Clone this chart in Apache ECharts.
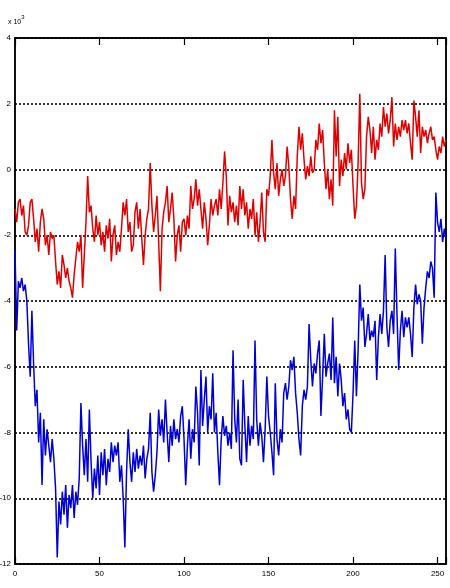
<!DOCTYPE html>
<html>
<head>
<meta charset="utf-8">
<script src="https://cdn.jsdelivr.net/npm/echarts@6/dist/echarts.min.js"></script>
<style>
  html, body { margin: 0; padding: 0; background: #fff; }
  #chart { width: 450px; height: 588px; }
</style>
</head>
<body>
<div id="chart"></div>
<script>
// Sample index (0..255) is the x value for both traces.
const xTicks = [0, 50, 100, 150, 200, 250];
const yTicks = [-12, -10, -8, -6, -4, -2, 0, 2, 4];
const yExponentLabel = '3';

// Upper trace (red), units of 10^3
const redValues = [
  -1.2, -1.6, -1.0, -0.9, -1.4, -1.1, -1.9, -2.0, -1.7, -1.0,
  -0.9, -1.5, -2.2, -1.8, -2.5, -1.6, -1.2, -1.5, -2.3, -2.0,
  -2.6, -1.9, -2.1, -2.0, -2.8, -3.5, -3.1, -3.6, -2.6, -2.9,
  -3.3, -3.0, -3.4, -3.6, -3.9, -3.2, -2.7, -2.2, -2.5, -2.0,
  -3.6, -2.6, -1.6, -0.2, -1.3, -1.1, -1.8, -2.2, -1.4, -2.0,
  -1.6, -2.3, -1.9, -2.5, -1.7, -2.1, -1.5, -2.8, -2.0, -1.7,
  -2.6, -2.2, -2.5, -1.8, -1.0, -1.4, -0.9, -1.9, -1.6, -2.5,
  -2.3, -1.3, -1.0, -1.8, -1.2, -2.1, -2.9, -2.0, -1.5, -1.2,
  0.2, -1.1, -1.9, -1.4, -0.8, -2.2, -3.7, -1.8, -1.3, -1.0,
  -0.5, -1.6, -1.2, -0.7, -1.5, -2.8, -2.0, -1.7, -2.5, -1.6,
  -1.5, -2.0, -1.4, -1.8, -0.5, -1.2, -0.9, -0.3, -1.1, -0.6,
  -1.2, -1.8, -1.0, -1.5, -2.3, -1.7, -0.9, -1.4, -1.1, -0.9,
  -1.4, -0.6, -1.2, -0.4, 0.55, -0.2, -1.7, -0.8, -1.3, -1.0,
  -1.6, -1.1, -1.7, -0.5, -1.2, -0.6, -1.4, -1.0, -1.8, -1.2,
  -1.5, -0.9, -2.0, -1.3, -2.2, -1.6, -0.7, -1.9, -2.2, -0.6,
  -0.8, -0.2, 0.9, -0.1, -0.6, 0.2, -0.8, -0.3, 0.0, -0.5,
  -0.2, 0.7, 0.1, -0.9, -1.5, -0.8, -1.2, 0.4, 1.3, 0.6,
  1.1, 0.3, -0.3, 0.1, -0.2, 0.4, -0.1, 0.0, 0.9, 0.6,
  1.4, 0.8, 1.2, 0.2, -0.6, 0.0, -0.9, -0.3, -1.1, 1.8,
  0.4, 1.6, -0.5, 0.3, -0.2, 0.5, 0.0, 0.8, 0.2, 0.6,
  -0.5, -1.5, -1.1, 0.2, 2.3, -0.4, -0.9, -0.6, 1.0, 1.6,
  1.2, 0.5, 1.3, 0.3, 0.9, 0.6, 1.4, 1.0, 1.9, 1.3,
  1.7, 1.1, 1.5, 2.2, 0.7, 1.4, 0.9, 1.3, 1.0, 1.5,
  1.2, 1.5, 1.1, 1.4, 0.8, 0.3, 2.1, 1.6, 1.0, 1.8,
  0.5, 1.3, 1.0, 1.2, 0.8, 1.1, 1.3, 0.9, 1.0, 0.6,
  0.3, 0.7, 0.5, 1.0, 0.7, 0.9
];

// Lower trace (blue), units of 10^3
const blueValues = [
  -2.45, -4.9, -3.4, -3.6, -3.3, -3.7, -3.5, -4.0, -5.3, -6.3,
  -4.3, -5.9, -7.2, -6.7, -8.3, -7.4, -9.6, -7.6, -8.7, -7.9,
  -8.4, -8.9, -8.2, -8.8, -9.7, -11.8, -10.1, -10.8, -9.8, -10.5,
  -9.6, -10.9, -9.9, -10.3, -9.6, -10.6, -9.8, -10.2, -9.4, -7.1,
  -8.4, -9.3, -8.2, -9.5, -7.3, -8.9, -10.0, -9.1, -9.7, -8.7,
  -9.9, -8.6, -9.3, -8.5, -9.6, -8.8, -9.2, -8.3, -8.9, -8.4,
  -8.7, -8.3, -9.5, -9.0, -10.0, -11.5, -9.2, -7.9, -8.9, -9.5,
  -8.6, -9.2, -8.5, -9.1, -8.7, -9.0, -8.4, -9.4, -8.8, -8.5,
  -7.4, -9.2, -9.8, -9.3, -8.6, -7.3, -8.1, -7.6, -8.3, -7.0,
  -8.0, -8.9, -7.8, -8.4, -7.6, -8.2, -7.9, -8.3, -7.5, -7.2,
  -8.2, -9.6, -8.4, -7.6, -8.8, -7.9, -8.3, -6.6, -7.4, -9.0,
  -6.1, -7.8, -7.0, -6.3, -8.0, -7.2, -7.6, -6.2, -8.0, -7.4,
  -8.6, -9.6, -8.2, -7.5, -8.1, -7.8, -8.4, -8.0, -8.5, -5.5,
  -7.6, -8.3, -7.0, -8.8, -9.0, -6.4, -7.8, -8.9, -7.5, -8.4,
  -7.8, -8.2, -5.2, -7.6, -8.4, -7.7, -8.1, -8.9, -7.9, -6.3,
  -7.5, -8.0, -8.6, -9.3, -6.5, -8.2, -8.7, -7.9, -8.3, -6.8,
  -6.5, -7.0, -6.6, -5.8, -6.1, -5.7, -6.8, -7.4, -8.2, -8.7,
  -7.2, -6.7, -7.0, -6.6, -4.7, -5.8, -6.6, -5.9, -6.2, -5.6,
  -5.2, -7.5, -6.3, -5.0, -6.3, -5.9, -5.6, -6.4, -4.5, -6.5,
  -5.7, -6.9, -5.9, -6.4, -7.2, -6.8, -7.6, -7.3, -7.9, -8.0,
  -6.8, -5.2, -6.9, -5.5, -3.5, -4.6, -4.2, -5.4, -5.0, -4.4,
  -5.2, -4.9, -5.1, -4.6, -6.4, -5.1, -4.4, -5.0, -4.3, -2.6,
  -4.8, -5.4, -4.6, -4.3, -5.0, -2.4, -4.4, -6.1, -4.9, -4.3,
  -5.1, -4.5, -4.8, -4.5, -5.0, -5.7, -4.2, -3.5, -4.1, -3.8,
  -4.0, -5.3, -4.2, -3.6, -3.1, -3.3, -2.8, -3.0, -3.9, -0.7,
  -1.6, -1.9, -1.5, -2.2, -1.8, -2.1
];

const toPairs = vals => vals.map((v, i) => [i, v]);

const chart = echarts.init(document.getElementById('chart'));
const tickFont = { fontFamily: 'Liberation Sans Narrow, Liberation Sans, sans-serif', fontSize: 8, color: '#000' };

chart.setOption({
  animation: false,
  backgroundColor: '#fff',
  grid: {
    left: 15, right: 4, top: 38, bottom: 24,
    outerBoundsMode: 'none', containLabel: false,
    show: true, borderColor: '#000', borderWidth: 1.5
  },
  xAxis: [{
    type: 'value', min: 0, max: 255, interval: 50, position: 'bottom',
    axisLine: { show: true, onZero: false, lineStyle: { color: '#000', width: 1.5 } },
    axisTick: { show: true, inside: true, length: 7, lineStyle: { color: '#000', width: 1.2 } },
    axisLabel: Object.assign({ margin: 6, formatter: v => xTicks.includes(v) ? String(v) : '' }, tickFont),
    splitLine: { show: false }
  }, {
    type: 'value', min: 0, max: 255, interval: 50, position: 'top',
    axisLine: { show: true, onZero: false, lineStyle: { color: '#000', width: 1.5 } },
    axisTick: { show: true, inside: true, length: 7, lineStyle: { color: '#000', width: 1.2 } },
    axisLabel: { show: false }, splitLine: { show: false }
  }],
  yAxis: [{
    type: 'value', min: -12, max: 4, interval: 2, position: 'left',
    axisLine: { show: true, onZero: false, lineStyle: { color: '#000', width: 1.5 } },
    axisTick: { show: false },
    axisLabel: Object.assign({ margin: 4, formatter: v => yTicks.includes(v) ? String(v) : '' }, tickFont),
    splitLine: { show: true, lineStyle: { color: '#000', width: 1.6, type: [2, 2] } }
  }, {
    type: 'value', min: -12, max: 4, interval: 2, position: 'right',
    axisLine: { show: true, onZero: false, lineStyle: { color: '#000', width: 1.5 } },
    axisTick: { show: false }, axisLabel: { show: false }, splitLine: { show: false }
  }],
  graphic: [{
    type: 'text', left: 8, top: 14,
    style: {
      text: '{b|x 10}{s|' + yExponentLabel + '}',
      rich: {
        b: { fontSize: 7, fontFamily: 'Liberation Sans, sans-serif', fill: '#000', verticalAlign: 'bottom' },
        s: { fontSize: 6, fontFamily: 'Liberation Sans, sans-serif', fill: '#000', padding: [0, 0, 6, 0] }
      }
    }
  }],
  series: [{
    name: 'red', type: 'line', data: toPairs(redValues), showSymbol: false,
    lineStyle: { color: '#e00000', width: 1.5 }, xAxisIndex: 0, yAxisIndex: 0
  }, {
    name: 'blue', type: 'line', data: toPairs(blueValues), showSymbol: false,
    lineStyle: { color: '#0000d8', width: 1.5 }, xAxisIndex: 0, yAxisIndex: 0
  }]
});
</script>
</body>
</html>
